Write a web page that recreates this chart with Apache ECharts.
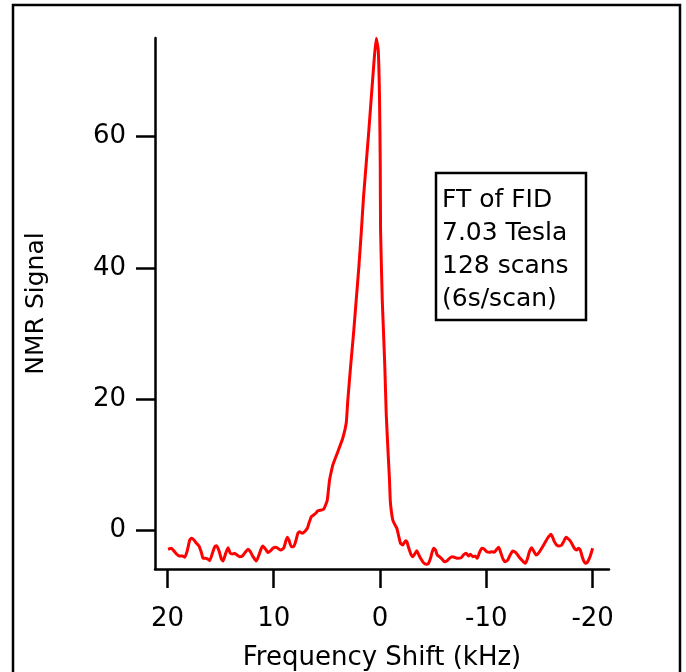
<!DOCTYPE html>
<html>
<head>
<meta charset="utf-8">
<script src="https://cdn.jsdelivr.net/npm/echarts@6/dist/echarts.min.js"></script>
<style>
html,body{margin:0;padding:0;background:#fff;}
#c{width:686px;height:672px;}
</style>
</head>
<body>
<div id="c"></div>
<script>
// Frequency shift (kHz)
var freq = [19.94,19.62,19.41,19.15,18.91,18.59,18.37,18.16,17.90,17.74,17.50,17.27,17.03,16.80,16.65,16.40,16.18,16.02,15.77,15.55,15.39,15.15,14.92,14.77,14.52,14.30,14.08,13.89,13.68,13.46,13.20,12.95,12.64,12.42,12.20,11.95,11.64,11.39,11.17,11.02,10.76,10.55,10.29,10.08,9.82,9.61,9.38,9.07,8.88,8.72,8.57,8.35,8.13,7.94,7.73,7.57,7.31,7.10,6.84,6.69,6.47,6.25,6.00,5.85,5.53,5.31,5.12,4.96,4.75,4.59,4.44,3.97,3.50,3.18,3.03,2.77,2.49,2.24,1.99,1.77,1.55,1.05,0.58,0.36,0.17,0.05,-0.02,-0.05,-0.21,-0.33,-0.45,-0.58,-0.73,-0.89,-0.96,-1.05,-1.20,-1.36,-1.58,-1.77,-1.93,-2.14,-2.40,-2.52,-2.71,-2.93,-3.08,-3.34,-3.46,-3.65,-3.87,-4.09,-4.34,-4.56,-4.75,-4.91,-5.06,-5.22,-5.38,-5.59,-5.85,-6.06,-6.28,-6.53,-6.79,-7.00,-7.31,-7.63,-7.85,-8.10,-8.32,-8.51,-8.72,-8.95,-9.14,-9.35,-9.57,-9.82,-10.04,-10.29,-10.55,-10.76,-10.98,-11.17,-11.33,-11.54,-11.77,-12.01,-12.24,-12.48,-12.74,-12.95,-13.18,-13.42,-13.65,-13.83,-14.05,-14.27,-14.45,-14.68,-14.90,-15.15,-15.39,-15.62,-15.86,-16.09,-16.24,-16.40,-16.62,-16.87,-17.09,-17.27,-17.50,-17.65,-17.88,-18.06,-18.28,-18.50,-18.68,-18.84,-19.00,-19.15,-19.31,-19.47,-19.62,-19.78,-20.00];
// NMR signal
var signal = [-2.94,-2.79,-3.16,-3.66,-3.97,-3.97,-4.16,-3.31,-1.53,-1.27,-1.53,-2.03,-2.44,-3.46,-4.32,-4.32,-4.47,-4.68,-3.55,-2.55,-2.40,-3.16,-4.47,-4.73,-3.55,-2.70,-3.55,-3.66,-3.55,-3.81,-4.07,-3.97,-3.31,-2.94,-3.31,-4.07,-4.73,-3.81,-2.79,-2.44,-2.94,-3.46,-3.16,-2.79,-2.64,-2.79,-3.05,-2.79,-1.78,-1.11,-1.53,-2.55,-2.55,-1.78,-0.50,-0.26,-0.50,-0.26,0.26,1.02,2.03,2.29,2.64,2.94,3.05,3.16,3.81,4.58,7.63,8.89,9.92,11.95,14.04,16.32,19.83,24.91,30.05,35.09,40.17,45.31,50.85,61.02,71.20,75.01,73.23,66.10,55.99,45.77,35.09,30.05,24.91,17.85,12.71,7.63,4.58,3.05,1.53,0.92,0.26,-1.02,-2.03,-2.29,-1.63,-1.78,-2.79,-3.81,-4.07,-3.46,-3.16,-3.81,-4.47,-4.99,-5.23,-5.08,-4.32,-3.31,-2.79,-3.05,-3.81,-4.07,-4.47,-4.84,-4.73,-4.32,-4.07,-4.16,-4.32,-4.23,-3.81,-3.55,-3.97,-3.71,-4.07,-3.97,-4.32,-3.46,-2.79,-2.94,-3.31,-3.40,-3.31,-3.40,-2.94,-2.64,-3.31,-4.32,-4.84,-4.58,-3.81,-3.20,-3.40,-3.81,-4.32,-4.73,-5.08,-4.58,-3.31,-2.70,-3.20,-3.81,-3.55,-2.94,-2.29,-1.63,-1.02,-0.66,-1.11,-1.78,-2.29,-2.44,-2.29,-1.78,-1.11,-1.27,-1.63,-2.14,-2.79,-3.05,-2.79,-3.05,-3.97,-4.68,-5.08,-4.99,-4.58,-3.97,-2.79];
var xTicks = [20, 10, 0, -10, -20];
var yTicks = [0, 20, 40, 60];
var noteLines = ['FT of FID', '7.03 Tesla', '128 scans', '(6s/scan)'];
var xTitle = 'Frequency Shift (kHz)';
var yTitle = 'NMR Signal';

var pts = freq.map(function (f, i) { return [f, signal[i]]; });
var FONT = '"DejaVu Sans", Verdana, sans-serif';

var chart = echarts.init(document.getElementById('c'), null, {renderer: 'canvas'});
chart.setOption({
  animation: false,
  backgroundColor: '#fff',
  grid: {left: 155, right: 77, top: 38, bottom: 103, containLabel: false, outerBoundsMode: 'none'},
  xAxis: {
    type: 'value', inverse: true, min: -21.54, max: 21.17,
    name: xTitle, nameLocation: 'middle', nameGap: 76,
    nameTextStyle: {fontFamily: FONT, fontSize: 26, color: '#000'},
    splitLine: {show: false},
    axisLine: {onZero: false, lineStyle: {color: '#000', width: 2.5}},
    axisTick: {show: true, length: 19, customValues: xTicks, lineStyle: {color: '#000', width: 2.5}},
    axisLabel: {customValues: xTicks, margin: 37, fontFamily: FONT, fontSize: 26, color: '#000',
      formatter: function (v) { return String(v); }}
  },
  yAxis: {
    type: 'value', min: -5.95, max: 75.06,
    name: yTitle, nameLocation: 'middle', nameGap: 106, nameRotate: 90,
    nameTextStyle: {fontFamily: FONT, fontSize: 25, color: '#000'},
    splitLine: {show: false},
    axisLine: {show: true, onZero: false, lineStyle: {color: '#000', width: 2.5}},
    axisTick: {show: true, length: 19, customValues: yTicks, lineStyle: {color: '#000', width: 2.5}},
    axisLabel: {customValues: yTicks, margin: 29, fontFamily: FONT, fontSize: 26, color: '#000'}
  },
  series: [{
    type: 'line', data: pts, showSymbol: false, smooth: 0.15,
    lineStyle: {color: '#ff0000', width: 3}, itemStyle: {color: '#ff0000'}
  }],
  graphic: [
    {type: 'rect', shape: {x: 13, y: 5, width: 667, height: 720}, style: {fill: 'none', stroke: '#000', lineWidth: 2.5}, silent: true, z: 10},
    {type: 'rect', shape: {x: 436, y: 173, width: 150, height: 147}, style: {fill: '#fff', stroke: '#000', lineWidth: 2.5}, z: 10},
    {type: 'text', x: 442, y: 184, z: 11,
      style: {text: noteLines.join('\n'), font: '25px ' + FONT, fill: '#000', lineHeight: 33, textVerticalAlign: 'top'}}
  ]
});
</script>
</body>
</html>
